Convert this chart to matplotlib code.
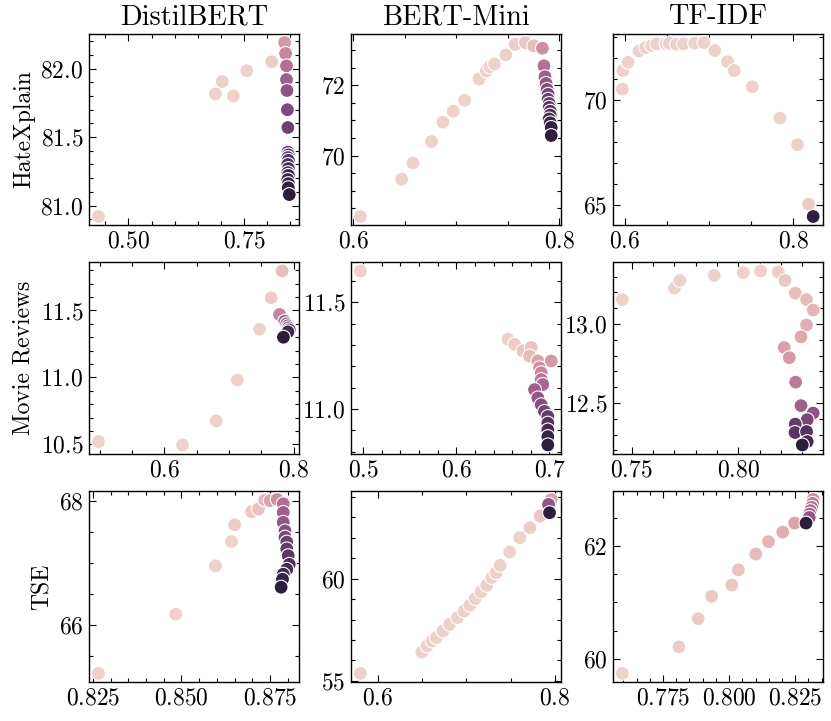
import matplotlib
matplotlib.use("Agg")
import matplotlib.pyplot as plt
from matplotlib.ticker import MultipleLocator
import seaborn as sns

plt.rcParams['font.family'] = 'serif'
plt.rcParams['font.serif'] = ['cmr10', 'DejaVu Serif']
plt.rcParams['mathtext.fontset'] = 'cm'
plt.rcParams['axes.formatter.use_mathtext'] = True
plt.rcParams['font.size'] = 17
for ax_ in ['xtick', 'ytick']:
    plt.rcParams[ax_ + '.direction'] = 'in'
    plt.rcParams[ax_ + '.minor.visible'] = True
    plt.rcParams[ax_ + '.major.size'] = 5
    plt.rcParams[ax_ + '.minor.size'] = 2.8
    plt.rcParams[ax_ + '.major.width'] = 0.8
    plt.rcParams[ax_ + '.minor.width'] = 0.8
    plt.rcParams[ax_ + '.major.pad'] = 4
plt.rcParams['xtick.top'] = True
plt.rcParams['ytick.right'] = True
plt.rcParams['axes.linewidth'] = 1.0

models = ['DistilBERT', 'BERT-Mini', 'TF-IDF']
datasets = ['HateXplain', 'Movie Reviews', 'TSE']

# major tick steps (x, y) per panel, row by row
tick_steps = [
    [(0.25, 0.5), (0.2, 2), (0.2, 5)],
    [(0.2, 0.5), (0.1, 0.5), (0.05, 0.5)],
    [(0.025, 2), (0.2, 5), (0.025, 2)],
]

# --- HateXplain ---
distil_hx_x = [0.435, 0.688, 0.703, 0.727, 0.756, 0.810, 0.838, 0.840, 0.842, 0.842, 0.843, 0.844, 0.845,
               0.845, 0.846, 0.845, 0.846, 0.845, 0.846, 0.845, 0.846, 0.845, 0.846, 0.846, 0.848]
distil_hx_y = [80.92, 81.815, 81.905, 81.80, 81.985, 82.05, 82.19, 82.11, 82.02, 81.92, 81.84, 81.70, 81.57,
               81.39, 81.37, 81.35, 81.33, 81.30, 81.27, 81.24, 81.22, 81.19, 81.16, 81.13, 81.08]
distil_hx_hue = [0, 0, 0, 0, 0, 0.02, 0.25, 0.35, 0.45, 0.55, 0.62, 0.68, 0.74,
                 0.78, 0.8, 0.82, 0.84, 0.86, 0.88, 0.9, 0.92, 0.94, 0.96, 0.98, 1.0]

mini_hx_x = [0.607, 0.647, 0.658, 0.676, 0.687, 0.697, 0.708, 0.722, 0.729, 0.7325, 0.737, 0.748, 0.757, 0.767,
             0.775, 0.7835, 0.785, 0.786, 0.787, 0.788, 0.789, 0.789, 0.790, 0.790, 0.791, 0.791, 0.790, 0.791,
             0.792, 0.792]
mini_hx_y = [68.27, 69.33, 69.79, 70.40, 70.95, 71.26, 71.57, 72.17, 72.40, 72.52, 72.60, 72.86, 73.16, 73.21,
             73.12, 73.05, 72.55, 72.24, 72.05, 71.88, 71.74, 71.60, 71.48, 71.37, 71.26, 71.15, 71.04, 70.93,
             70.80, 70.57]
mini_hx_hue = [0, 0, 0, 0, 0, 0, 0, 0, 0, 0, 0, 0, 0.02, 0.04, 0.08, 0.3, 0.45, 0.55, 0.6, 0.65, 0.7, 0.74,
               0.78, 0.82, 0.85, 0.88, 0.91, 0.94, 0.97, 1.0]

tfidf_hx_x = [0.5973, 0.598, 0.604, 0.617, 0.625, 0.632, 0.638, 0.649, 0.653, 0.6615, 0.670, 0.683, 0.694,
              0.707, 0.722, 0.730, 0.7515, 0.784, 0.805, 0.818, 0.8235]
tfidf_hx_y = [70.51, 71.40, 71.79, 72.33, 72.49, 72.59, 72.67, 72.67, 72.70, 72.65, 72.67, 72.70, 72.73,
              72.35, 71.82, 71.40, 70.63, 69.13, 67.86, 65.03, 64.44]
tfidf_hx_hue = [0] * 19 + [0.03, 1.0]

# --- Movie Reviews ---
distil_mr_x = [0.498, 0.628, 0.680, 0.7125, 0.747, 0.765, 0.782, 0.778, 0.786, 0.789, 0.791, 0.792, 0.793,
               0.791, 0.784]
distil_mr_y = [10.52, 10.495, 10.675, 10.98, 11.36, 11.595, 11.795, 11.47, 11.42, 11.40, 11.385, 11.37,
               11.355, 11.34, 11.30]
distil_mr_hue = [0, 0, 0, 0, 0, 0.02, 0.08, 0.35, 0.5, 0.6, 0.7, 0.78, 0.85, 0.92, 1.0]

mini_mr_x = [0.4972, 0.6554, 0.6626, 0.6715, 0.6805, 0.6787, 0.6876, 0.7019, 0.6894, 0.6912, 0.6912, 0.6929,
             0.6840, 0.6876, 0.6912, 0.6947, 0.6983, 0.6983, 0.6983, 0.6983, 0.6983]
mini_mr_y = [11.646, 11.327, 11.303, 11.272, 11.288, 11.248, 11.225, 11.225, 11.193, 11.170, 11.138, 11.115,
             11.091, 11.052, 11.020, 10.989, 10.965, 10.934, 10.902, 10.871, 10.832]
mini_mr_hue = [0, 0, 0.02, 0.05, 0.06, 0.1, 0.2, 0.25, 0.3, 0.35, 0.42, 0.5, 0.55, 0.6, 0.66, 0.72, 0.78,
               0.84, 0.9, 0.95, 1.0]

tfidf_mr_x = [0.7456, 0.770, 0.7726, 0.7887, 0.8023, 0.8105, 0.8187, 0.8219, 0.8267, 0.8320, 0.8351, 0.832,
              0.8294, 0.8215, 0.8239, 0.8269, 0.8294, 0.8351, 0.8323, 0.8267, 0.8266, 0.8320, 0.8323, 0.830]
tfidf_mr_y = [13.155, 13.228, 13.276, 13.308, 13.325, 13.336, 13.33, 13.276, 13.196, 13.155, 13.089, 12.994,
              12.919, 12.851, 12.787, 12.632, 12.483, 12.436, 12.394, 12.366, 12.313, 12.319, 12.255, 12.234]
tfidf_mr_hue = [0, 0, 0, 0, 0, 0, 0.02, 0.04, 0.08, 0.1, 0.12, 0.15, 0.18, 0.22, 0.25, 0.4, 0.55, 0.62, 0.7,
                0.78, 0.82, 0.85, 0.9, 1.0]

# --- TSE ---
distil_tse_x = [0.8266, 0.8484, 0.8596, 0.8641, 0.865, 0.8698, 0.8717, 0.8735, 0.875, 0.8770, 0.8787, 0.8787,
                0.8787, 0.8792, 0.8792, 0.8797, 0.8797, 0.8801, 0.8804, 0.8797, 0.8787, 0.8785, 0.8781]
distil_tse_y = [65.216, 66.173, 66.956, 67.35, 67.62, 67.83, 67.875, 68.02, 68.01, 68.03, 67.96, 67.82,
                67.66, 67.52, 67.42, 67.34, 67.23, 67.12, 66.98, 66.90, 66.82, 66.74, 66.61]
distil_tse_hue = [0, 0, 0, 0, 0.02, 0.05, 0.07, 0.12, 0.2, 0.3, 0.45, 0.55, 0.6, 0.65, 0.7, 0.74, 0.78, 0.82,
                  0.86, 0.9, 0.93, 0.96, 1.0]

mini_tse_x = [0.5802, 0.6497, 0.6554, 0.6611, 0.666, 0.6733, 0.6809, 0.6897, 0.6973, 0.7038, 0.7099, 0.7164,
              0.7229, 0.7286, 0.7335, 0.7381, 0.7488, 0.7602, 0.7716, 0.7831, 0.7957, 0.7927, 0.7938]
mini_tse_y = [55.37, 56.41, 56.71, 56.95, 57.12, 57.44, 57.77, 58.09, 58.42, 58.70, 59.02, 59.35, 59.67,
              60.05, 60.29, 60.65, 61.30, 62.00, 62.49, 63.06, 63.87, 63.63, 63.22]
mini_tse_hue = [0] * 18 + [0.02, 0.05, 0.2, 0.6, 1.0]

tfidf_tse_x = [0.7596, 0.781, 0.7883, 0.7934, 0.801, 0.8035, 0.8101, 0.8149, 0.8203, 0.8248, 0.8318, 0.8316,
               0.8312, 0.8308, 0.8305, 0.8303, 0.8291]
tfidf_tse_y = [59.74, 60.21, 60.71, 61.11, 61.31, 61.58, 61.86, 62.08, 62.25, 62.41, 62.83, 62.76, 62.69,
               62.63, 62.57, 62.51, 62.41]
tfidf_tse_hue = [0, 0.02, 0.03, 0.04, 0.05, 0.06, 0.1, 0.12, 0.15, 0.2, 0.3, 0.4, 0.45, 0.5, 0.55, 0.6, 1.0]

panels = [
    [(distil_hx_x, distil_hx_y, distil_hx_hue), (mini_hx_x, mini_hx_y, mini_hx_hue),
     (tfidf_hx_x, tfidf_hx_y, tfidf_hx_hue)],
    [(distil_mr_x, distil_mr_y, distil_mr_hue), (mini_mr_x, mini_mr_y, mini_mr_hue),
     (tfidf_mr_x, tfidf_mr_y, tfidf_mr_hue)],
    [(distil_tse_x, distil_tse_y, distil_tse_hue), (mini_tse_x, mini_tse_y, mini_tse_hue),
     (tfidf_tse_x, tfidf_tse_y, tfidf_tse_hue)],
]

cmap = sns.cubehelix_palette(as_cmap=True)

fig, axes = plt.subplots(3, 3, figsize=(8.31, 7.21), dpi=100)
fig.subplots_adjust(left=0.107, right=0.990, top=0.953, bottom=0.054, wspace=0.248, hspace=0.194)

for r in range(3):
    for c in range(3):
        ax = axes[r, c]
        x, y, h = panels[r][c]
        ax.scatter(x, y, c=h, cmap=cmap, vmin=0, vmax=1, s=100,
                   edgecolors='white', linewidths=0.8, zorder=3)
        xs, ys = tick_steps[r][c]
        ax.xaxis.set_major_locator(MultipleLocator(xs))
        ax.yaxis.set_major_locator(MultipleLocator(ys))
        if r == 0:
            ax.set_title(models[c], pad=7)
        if c == 0:
            ax.set_ylabel(datasets[r])

fig.savefig("out.png", dpi=100)
